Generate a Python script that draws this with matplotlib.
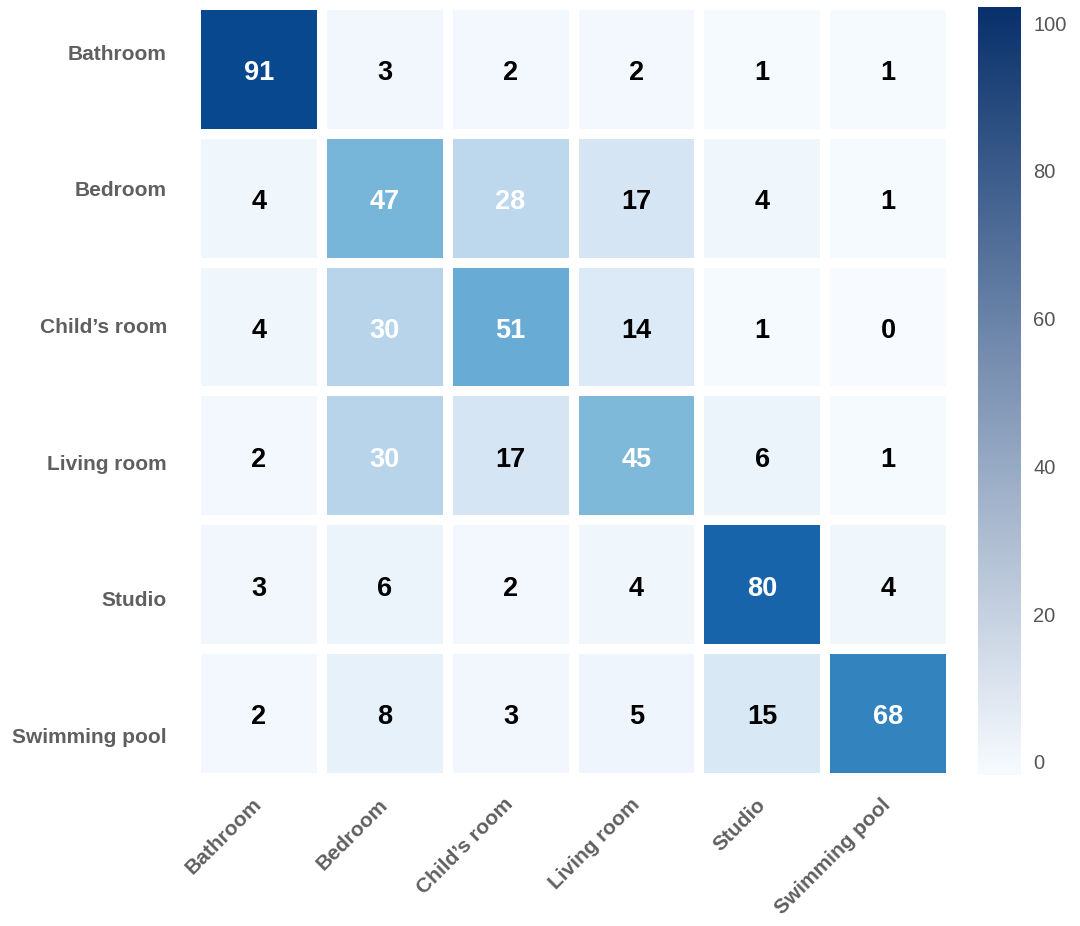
import numpy as np
import matplotlib
matplotlib.use("Agg")
import matplotlib.pyplot as plt
from matplotlib.colors import Normalize, LinearSegmentedColormap
from matplotlib.cm import ScalarMappable

plt.rcParams['font.family'] = ['Liberation Sans', 'DejaVu Sans']

categories = ["Bathroom", "Bedroom", "Child\u2019s room", "Living room", "Studio", "Swimming pool"]
values = np.array([
    [91, 3, 2, 2, 1, 1],
    [4, 47, 28, 17, 4, 1],
    [4, 30, 51, 14, 1, 0],
    [2, 30, 17, 45, 6, 1],
    [3, 6, 2, 4, 80, 4],
    [2, 8, 3, 5, 15, 68],
])
cbar_ticks = [0, 20, 40, 60, 80, 100]

W, H = 1080, 926
fig = plt.figure(figsize=(W / 100, H / 100), dpi=100)
fig.patch.set_facecolor('white')

def px_axes(x0, y0, x1, y1):
    return fig.add_axes([x0 / W, 1 - y1 / H, (x1 - x0) / W, (y1 - y0) / H])

ax = px_axes(196, 5, 951, 778)
n = len(categories)
norm = Normalize(vmin=0, vmax=100)
ax.pcolormesh(np.arange(n + 1), np.arange(n + 1), values, cmap='Blues', norm=norm,
              edgecolors='white', linewidth=5.8)
ax.set_xlim(0, n)
ax.set_ylim(n, 0)
for s in ax.spines.values():
    s.set_visible(False)

for i in range(n):
    for j in range(n):
        v = values[i, j]
        ax.text(j + 0.5, i + 0.53, str(v), ha='center', va='center',
                fontsize=19.5, fontweight='bold',
                color='white' if v > 20 else 'black')

ax.set_xticks(np.arange(n) + 0.5)
ax.set_xticklabels(categories, rotation=45, ha='right', va='center', rotation_mode='anchor',
                   fontsize=15, fontweight='bold', color='#5f5f5f')
ytick_pos = 0.365 + np.arange(n) * 1.061
ax.set_yticks(ytick_pos)
ax.set_yticklabels(categories, fontsize=15, fontweight='bold', color='#5f5f5f')
ax.tick_params(axis='both', length=0)
ax.tick_params(axis='x', pad=17)
ax.tick_params(axis='y', pad=21)

cax = px_axes(978, 7, 1021, 775)
cb_cmap = LinearSegmentedColormap.from_list('cb', ['#f7fbff', '#08306b'])
sm = ScalarMappable(norm=Normalize(vmin=-1.8, vmax=102.2), cmap=cb_cmap)
cb = fig.colorbar(sm, cax=cax)
cb.outline.set_visible(False)
cb.set_ticks(cbar_ticks)
cb.ax.tick_params(length=0, pad=9, labelsize=14.5, labelcolor='#555555')

fig.savefig('out.png', dpi=100, facecolor='white')
